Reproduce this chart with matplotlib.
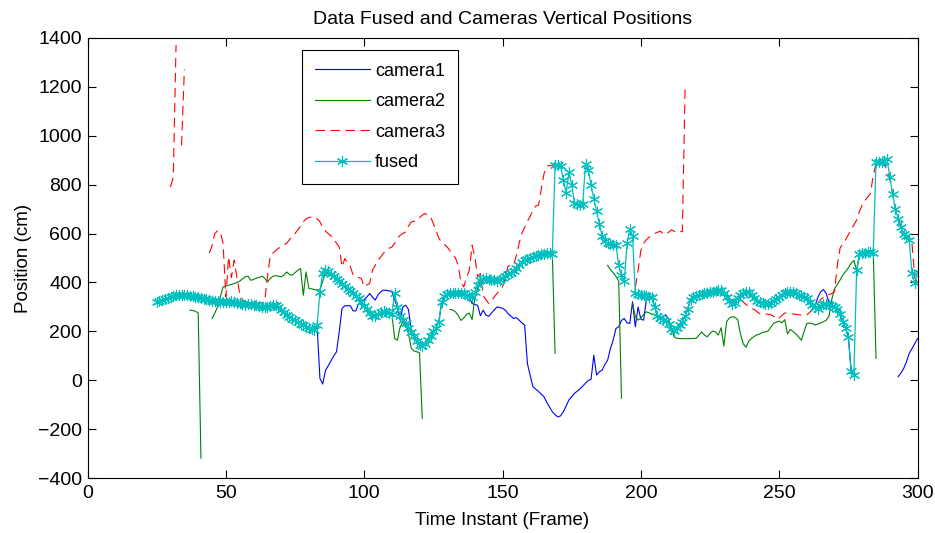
import numpy as np
import matplotlib
matplotlib.use("Agg")
import matplotlib.pyplot as plt

nan = np.nan

# ---- fused estimate: one value per frame, 25..300 ----
fused_frames = list(range(25, 301))
fused_values = [
    320, 324, 328, 332, 336, 340, 344, 347, 350, 350,
    349, 348, 346, 344, 342, 340, 337, 334, 331, 328,
    326, 325, 324, 322, 321, 320, 322, 324, 322, 318,
    315, 312, 310, 312, 314, 310, 306, 303, 300, 298,
    300, 305, 310, 306, 298, 288, 278, 268, 260, 252,
    245, 238, 232, 226, 220, 214, 208, 205, 226, 362,
    440, 450, 445, 435, 425, 415, 405, 395, 385, 375,
    365, 355, 345, 335, 320, 305, 290, 275, 262, 265,
    270, 278, 282, 278, 275, 272, 355, 300, 265, 246,
    235, 215, 198, 180, 160, 145, 142, 150, 165, 180,
    200, 215, 240, 320, 345, 352, 355, 356, 355, 356,
    357, 355, 350, 345, 340, 360, 390, 410, 416, 418,
    415, 412, 410, 408, 412, 420, 428, 434, 437, 445,
    460, 472, 482, 490, 496, 502, 506, 510, 512, 515,
    518, 520, 520, 518, 879, 880, 875, 818, 765, 851,
    800, 725, 720, 718, 722, 886, 860, 800, 740, 690,
    640, 590, 570, 560, 558, 555, 552, 470, 430, 405,
    560, 620, 590, 355, 352, 350, 348, 345, 342, 340,
    300, 265, 255, 248, 242, 230, 210, 200, 212, 225,
    240, 262, 290, 330, 340, 345, 348, 352, 355, 358,
    360, 363, 366, 369, 370, 355, 340, 325, 312, 318,
    335, 350, 358, 362, 360, 350, 335, 325, 320, 316,
    314, 314, 318, 325, 332, 340, 348, 355, 360, 362,
    360, 356, 350, 346, 341, 335, 322, 310, 300, 290,
    305, 314, 314, 307, 303, 298, 292, 273, 240, 212,
    178, 40, 22, 450, 518, 520, 522, 525, 525, 521,
    892, 892, 893, 895, 906, 831, 760, 700, 660, 625,
    600, 588, 575, 437, 396, 443,
]

# ---- camera 1 ----
cam1_frames = [
    47, 50, 53, 55, 58, 60, 63, 65, 68, 70, 72, 75, 78, 80, 82, 83, 84, 85, 86, 87,
    88, 89, 90, 91, 92, 93, 95, 96, 97, 98, 100, 101, 102, 103, 104, 105, 106, 107, 109, 110,
    111, 112, 113, 114, 115, 116, 117, 118, 119, 120, 122, 124, 126, 127, 128, 130, 134, 138, 139, 140,
    141, 142, 143, 144, 145, 146, 148, 150, 151, 152, 154, 155, 156, 157, 158, 159, 160, 161, 163, 165,
    166, 168, 169, 170, 171, 172, 174, 176, 178, 179, 181, 182, 183, 184, 185, 186, 187, 188, 189, 190,
    191, 192, 193, 194, 195, 196, 197, 198, 199, 200, 201, 202, 204, 205, 206, 207, 208, 209, 210, 211,
    212, 214, 216, 218, 220, 225, 229, 233, 236, 238, 240, 243, 246, 250, 254, 258, 262, 263, 264, 265,
    266, 267, 268, 270, 272, 274, 275, 276, 277, 285,
    293, 294, 295, 296, 297, 298, 299, 300,
]
cam1_values = [
    330, 325, 322, 318, 313, 310, 302, 300, 300, 285, 268, 245, 226, 214, 205, 219, 8, -15, 40, 60,
    80, 100, 117, 200, 294, 305, 305, 284, 284, 314, 330, 341, 355, 340, 328, 350, 362, 369, 366, 362,
    330, 300, 246, 300, 307, 290, 205, 180, 160, 145, 150, 180, 215, 240, 320, 350, 355, 340, 314, 310,
    307, 264, 287, 267, 262, 275, 300, 295, 287, 273, 253, 256, 246, 235, 226, 69, 20, -26, -45, -67,
    -90, -128, -140, -149, -145, -128, -80, -53, -35, -23, 0, 4, 103, 22, 35, 42, 65, 83, 130, 165,
    212, 219, 245, 253, 235, 233, 321, 219, 300, 250, 246, 330, 340, 300, 265, 250, 262, 268, 250, 215,
    200, 225, 262, 330, 345, 360, 370, 318, 350, 362, 350, 320, 314, 340, 362, 346, 310, 305, 340, 362,
    371, 355, 318, 298, 273, 212, 178, 40, 22, nan,
    15, 30, 49, 76, 110, 130, 150, 171,
]

# ---- camera 2 ----
cam2_frames = [
    37, 38, 39, 40, 41, 43,
    45, 46, 47, 48, 49, 51, 52, 54, 55, 56, 57, 58, 59, 60,
    61, 62, 63, 64, 65, 66, 67, 68, 70, 71, 72, 73, 74, 75, 76, 77, 78, 79, 80, 81,
    82, 83, 84, 86, 88, 90, 92, 94, 96, 98, 100, 102, 104, 106, 108, 110, 111, 112, 113, 114,
    115, 116, 117, 118, 119, 120, 121, 125,
    131, 132, 133, 134, 135, 136, 137, 138, 139, 140, 142, 144, 146, 148, 150, 152, 154, 156, 158, 160,
    162, 164, 166, 168, 169, 180,
    188, 189, 190, 191, 192, 193, 195,
    197, 198, 199, 200, 201, 202, 203, 204, 205, 206, 207, 208, 209, 210, 211, 212, 213, 214, 216, 218,
    220, 221, 222, 223, 224, 225, 226, 227, 228, 229, 230, 231, 232, 233, 234, 235, 236, 237, 238, 239,
    240, 241, 242, 243, 244, 245, 246, 247, 248, 249, 250, 251, 252, 253, 254, 255, 256, 257, 258, 259,
    260, 261, 262, 263, 264, 265, 266, 267, 268, 269, 270, 271, 272, 273, 274, 275, 276, 277, 278, 279,
    280, 282, 284, 285,
]
cam2_values = [
    287, 286, 282, 276, -318, nan,
    253, 275, 300, 341, 382, 389, 392, 400, 405, 415, 423, 426, 409, 412,
    418, 420, 426, 418, 402, 416, 425, 428, 423, 430, 443, 432, 430, 440, 450, 457, 348, 443, 376, 374,
    371, 370, 369, 440, 430, 415, 395, 375, 355, 335, 305, 275, 268, 272, 275, 273, 171, 164, 219, 239,
    225, 192, 131, 120, 117, 113, -155, nan,
    290, 288, 280, 265, 245, 255, 270, 275, 248, 340, 410, 418, 412, 408, 420, 434, 445, 472, 490, 502,
    510, 515, 520, 518, 110, nan,
    470, 452, 440, 425, 405, -73, nan,
    314, 260, 246, 255, 270, 280, 276, 270, 268, 265, 260, 255, 248, 240, 215, 178, 172, 171, 170, 171,
    172, 185, 198, 185, 178, 192, 202, 198, 185, 215, 140, 240, 255, 260, 258, 248, 190, 150, 135, 160,
    172, 180, 186, 190, 196, 198, 202, 218, 233, 238, 242, 235, 248, 190, 208, 200, 190, 178, 164, 200,
    233, 234, 232, 226, 230, 235, 240, 246, 262, 330, 375, 392, 410, 430, 445, 460, 478, 490, 450, 510,
    518, 522, 524, 90,
]

# ---- camera 3 ----
cam3_frames = [
    30, 31, 32, 33, 34, 35, 36,
    44, 45, 46, 47, 48, 49, 50, 51, 52, 53, 54, 55, 56, 57, 58, 60, 62, 64, 65, 66, 67, 68, 69,
    70, 71, 72, 73, 74, 75, 76, 77, 78, 79, 80, 81, 82, 83, 84, 85, 86, 87, 88, 89,
    90, 91, 92, 93, 94, 95, 96, 97, 98, 99, 100, 101, 102, 103, 104, 105, 106, 107, 108, 109,
    110, 111, 112, 113, 114, 115, 116, 117, 118, 119, 120, 121, 122, 123, 124, 125, 126, 127, 128, 129,
    130, 131, 132, 133, 134, 135, 136, 137, 138, 139, 140, 141, 142, 143, 144, 145, 146, 147, 148, 149,
    150, 151, 152, 153, 154, 155, 156, 157, 158, 159, 160, 161, 162, 163, 164, 165, 166, 167, 168, 169,
    180,
    198, 199, 200, 201, 202, 203, 204, 205, 206, 207, 208, 209, 210, 211, 212, 213, 214, 215, 216, 220,
    236, 238, 240, 241, 242, 243, 244, 245, 246, 247, 248, 249, 250, 251, 252, 253, 254, 255, 256, 257,
    258, 259, 260, 261, 262, 263, 264, 265, 266, 267, 268, 269, 270, 271, 272, 273, 274, 275, 276, 277,
    278, 279, 280, 281, 282, 283, 284, 285, 286, 288, 290, 292, 294, 296, 298, 299, 300,
]
cam3_values = [
    790, 830, 1370, nan, 960, 1270, nan,
    520, 550, 600, 611, 607, 559, 341, 505, 420, 491, 420, 355, 330, 320, 318, 316, 315, 320, 420, 505, 520, 530, 540,
    545, 555, 560, 575, 590, 600, 615, 630, 648, 660, 665, 668, 668, 660, 648, 625, 610, 600, 590, 580,
    560, 545, 464, 498, 480, 465, 430, 425, 420, 416, 382, 390, 396, 450, 470, 491, 505, 520, 530, 540,
    545, 560, 580, 593, 600, 607, 630, 647, 650, 654, 665, 675, 682, 675, 668, 640, 613, 580, 565, 555,
    545, 530, 515, 500, 470, 400, 382, 420, 450, 552, 505, 423, 437, 348, 330, 314, 325, 341, 355, 370,
    382, 420, 467, 468, 470, 510, 560, 600, 625, 650, 670, 695, 712, 716, 780, 845, 875, 878, 879, 880,
    nan,
    380, 450, 530, 560, 575, 585, 595, 600, 605, 610, 600, 595, 605, 615, 610, 605, 610, 607, 1205, nan,
    330, 310, 294, 290, 280, 273, 272, 272, 270, 268, 262, 250, 255, 265, 275, 276, 273, 271, 270, 268,
    267, 267, 268, 278, 287, 300, 315, 330, 340, 345, 350, 355, 362, 470, 540, 559, 575, 595, 615, 635,
    655, 690, 716, 735, 750, 763, 838, 886, 880, 890, 820, 700, 630, 590, 560, 420, 400,
]

x_ticks = [0, 50, 100, 150, 200, 250, 300]
y_ticks = [-400, -200, 0, 200, 400, 600, 800, 1000, 1200, 1400]

plt.rcParams["font.family"] = ["Liberation Sans", "DejaVu Sans"]

fig = plt.figure(figsize=(9.35, 5.33), dpi=100)
ax = fig.add_axes([0.0936, 0.1026, 0.8877, 0.8267])

ax.plot(cam1_frames, cam1_values, color=(0, 0, 1), lw=0.8, label="camera1")
ax.plot(cam2_frames, cam2_values, color=(0, 0.5, 0), lw=0.8, label="camera2")
ax.plot(cam3_frames, cam3_values, color=(1, 0, 0), lw=0.8, dashes=(8.5, 5), label="camera3")
ax.plot(fused_frames, fused_values, color=(0, 0.75, 0.75), lw=0.9,
        marker=(6, 2, 0), markersize=8, markeredgewidth=0.8, label="fused")

ax.set_xlim(0, 300)
ax.set_ylim(-400, 1400)
ax.set_xticks(x_ticks)
ax.set_yticks(y_ticks)
ax.tick_params(direction="in", length=6, width=0.8, top=True, right=True, labelsize=14)
ax.tick_params(axis="x", pad=5)
ax.tick_params(axis="y", pad=4)
for s in ax.spines.values():
    s.set_linewidth(0.8)

ax.set_title("Data Fused and Cameras Vertical Positions", fontsize=14, pad=10)
ax.set_xlabel("Time Instant (Frame)", fontsize=13.5, labelpad=7)
ax.set_ylabel("Position (cm)", fontsize=13.5, labelpad=4)

leg = ax.legend(loc="upper left", bbox_to_anchor=(0.2584, 0.972), borderaxespad=0,
                fancybox=False, edgecolor="black", framealpha=1, borderpad=0.7,
                handlelength=3.05, handletextpad=0.3, labelspacing=0.75, fontsize=13)
leg.get_frame().set_linewidth(0.8)

fig.savefig("out.png", dpi=100)
